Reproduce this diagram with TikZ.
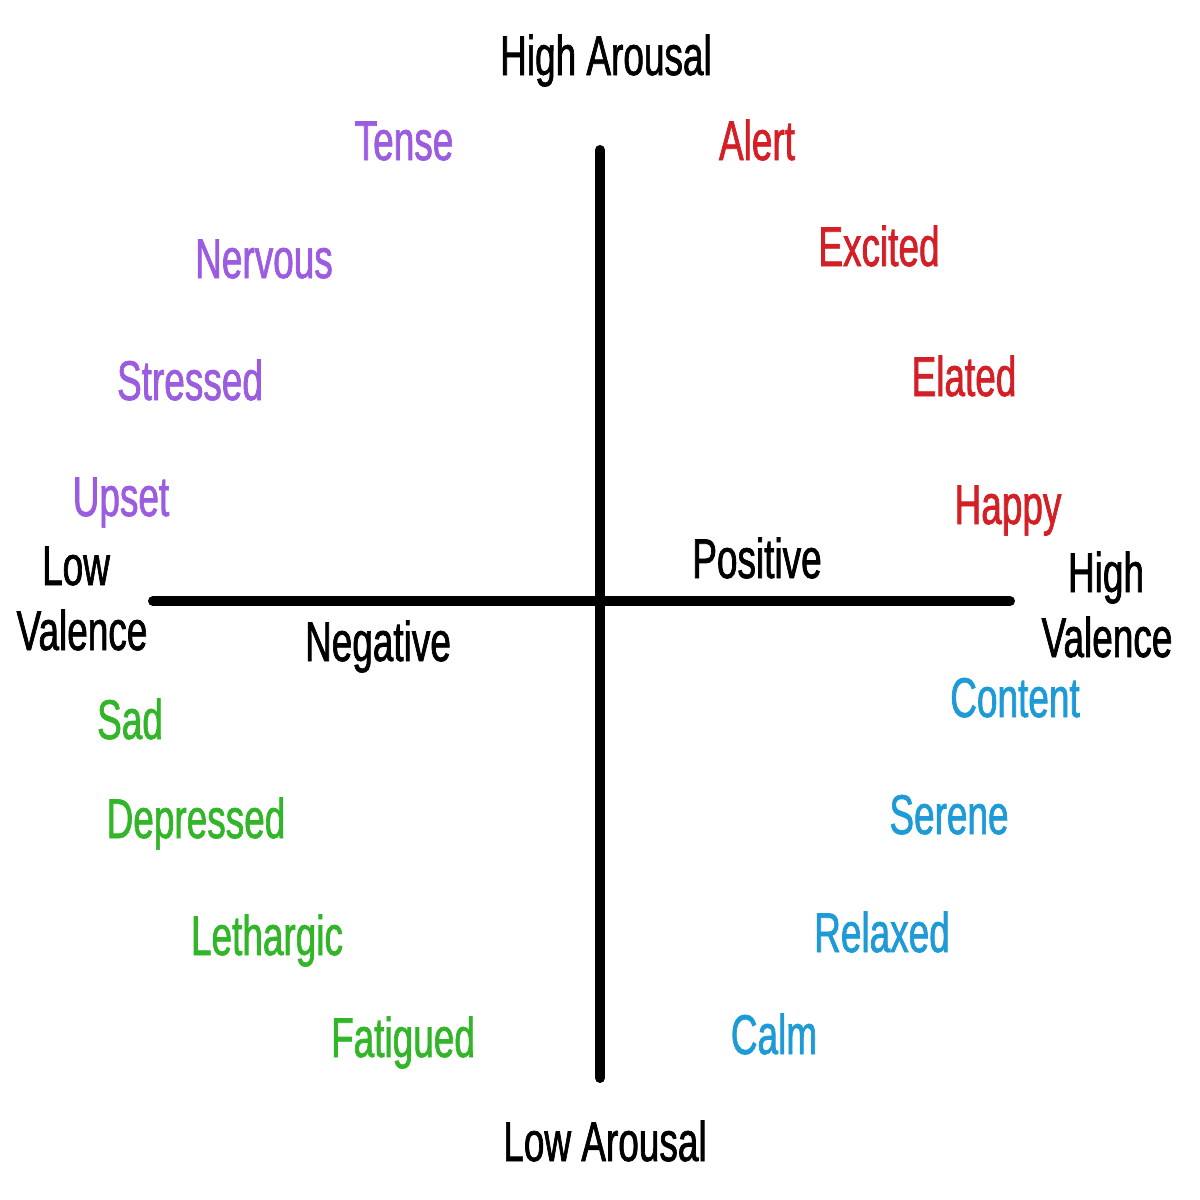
\documentclass[tikz,border=0pt]{standalone}
\usepackage{fontspec}
\usepackage{xcolor}
\newfontfamily\lblfont[FakeStretch=0.66,FakeBold=1.2]{Liberation Sans}
\definecolor{tensecol}{HTML}{9C5CE0}
\definecolor{alertcol}{HTML}{D31F26}
\definecolor{sadcol}{HTML}{33B52A}
\definecolor{calmcol}{HTML}{1E9AD6}
\tikzset{
  word/.style={anchor=base,inner sep=0.75pt,font=\lblfont\fontsize{28}{30}\selectfont},
  axisline/.style={line width=5pt,line cap=round}
}

\begin{document}
\begin{tikzpicture}[x=0.5pt,y=0.5pt,yscale=-1]
        \useasboundingbox (0,0) rectangle (1200,1200);
        
        %Straight Lines [id:arousal]
        \coordinate (arTop) at (600,150);
        \coordinate (arBot) at (600,1078);
        \draw [axisline] (arTop) -- (arBot);
        %Straight Lines [id:valence]
        \coordinate (vaLeft) at (153,601);
        \coordinate (vaRight) at (1010,601);
        \draw [axisline] (vaLeft) -- (vaRight);
        
        % Text Node
        \node (highAr) [word] at (606,75) {High Arousal};
        % Text Node
        \node (lowAr) [word] at (605,1161) {Low Arousal};
        % Text Node
        \node (lowVa1) [word] at (76,585) {Low};
        \node (lowVa2) [word] at (82,650) {Valence};
        % Text Node
        \node (highVa1) [word] at (1106,592) {High};
        \node (highVa2) [word] at (1107,657) {Valence};
        % Text Node
        \node (positive) [word] at (757,578) {Positive};
        % Text Node
        \node (negative) [word] at (378,661) {Negative};
        
        % Text Node
        \node (tense) [word,tensecol] at (404,160) {Tense};
        \node (nervous) [word,tensecol] at (264,278) {Nervous};
        \node (stressed) [word,tensecol] at (190,400) {Stressed};
        \node (upset) [word,tensecol] at (121,516) {Upset};
        % Text Node
        \node (alert) [word,alertcol] at (757,160) {Alert};
        \node (excited) [word,alertcol] at (879,266) {Excited};
        \node (elated) [word,alertcol] at (964,396) {Elated};
        \node (happy) [word,alertcol] at (1008,524) {Happy};
        % Text Node
        \node (sad) [word,sadcol] at (130,739) {Sad};
        \node (depressed) [word,sadcol] at (196,838) {Depressed};
        \node (lethargic) [word,sadcol] at (267,955) {Lethargic};
        \node (fatigued) [word,sadcol] at (403,1057) {Fatigued};
        % Text Node
        \node (content) [word,calmcol] at (1015,717) {Content};
        \node (serene) [word,calmcol] at (949,834) {Serene};
        \node (relaxed) [word,calmcol] at (882,952) {Relaxed};
        \node (calm) [word,calmcol] at (774,1054) {Calm};
        
\end{tikzpicture}
\end{document}
